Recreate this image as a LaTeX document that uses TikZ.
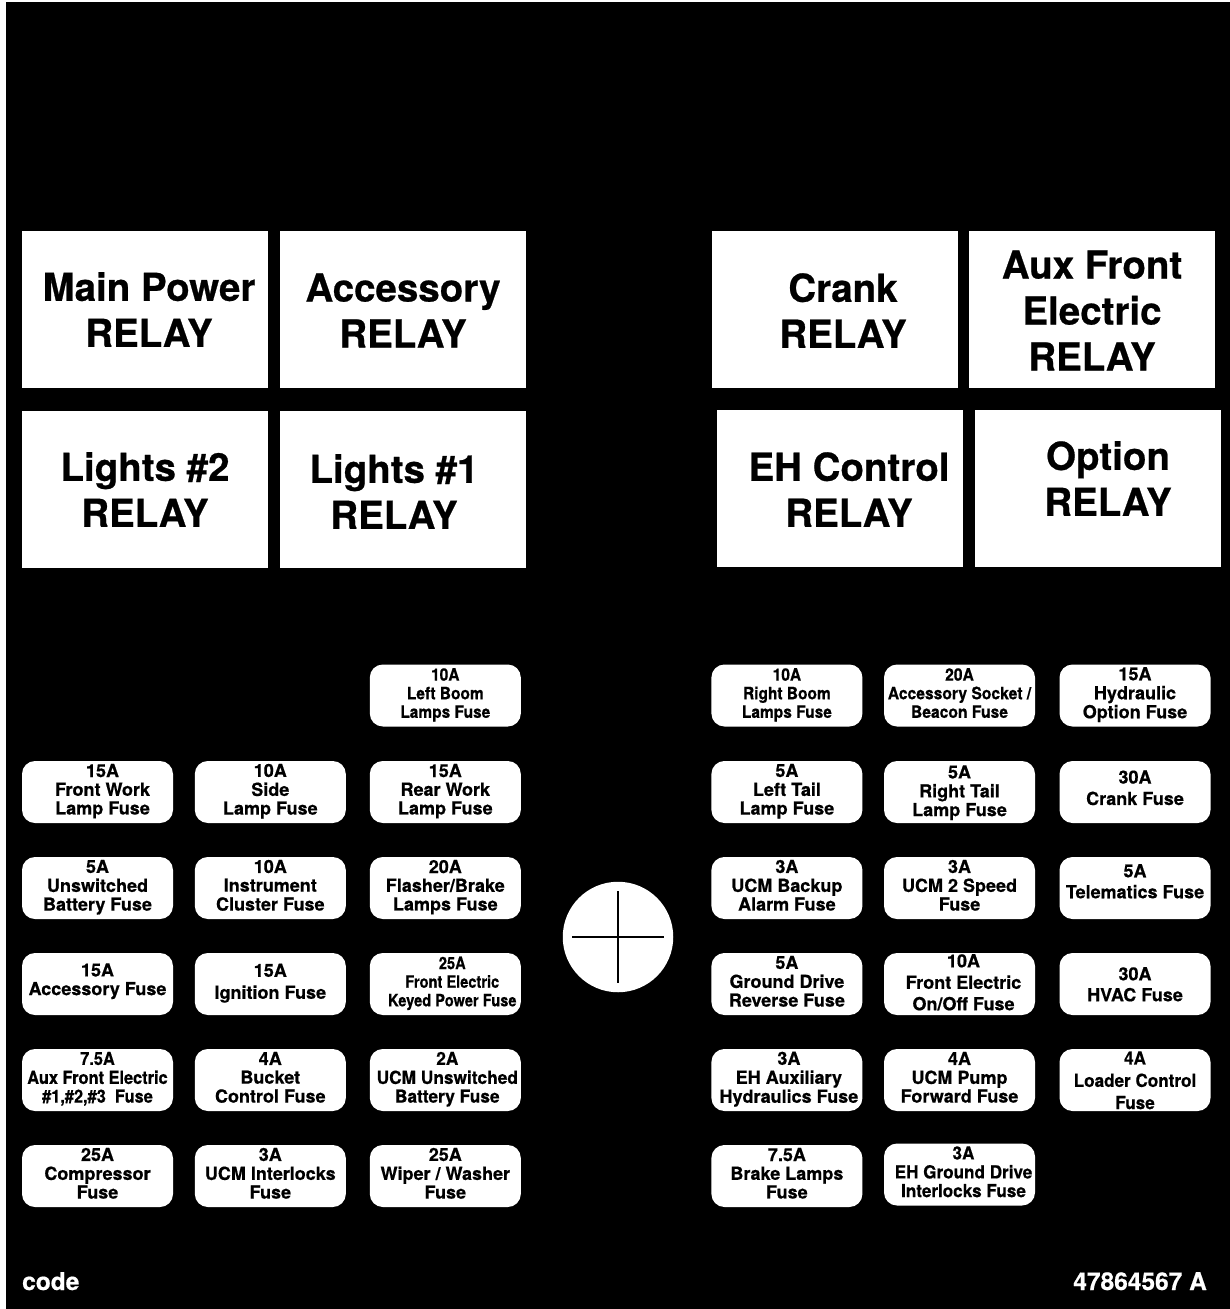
\documentclass[tikz,border=0pt]{standalone}
\usepackage{fontspec}
\usepackage{graphicx}
\setmainfont{TeX Gyre Heros}[BoldFeatures={FakeBold=0.6}]
\usetikzlibrary{calc}
\tikzset{
  relaybox/.style={rectangle, fill=white, inner sep=0pt, outer sep=0pt},
  relaytext/.style={inner sep=0pt, text=black, align=center, font=\fontsize{38.5}{46}\selectfont\bfseries},
  fusebox/.style={rectangle, rounded corners=13pt, fill=white, inner sep=0pt, outer sep=0pt,
                  minimum width=151pt, minimum height=62pt},
  fusetext/.style={inner sep=0pt, text=black, font=\fontsize{18}{18.6}\selectfont\bfseries},
  foottext/.style={inner sep=0pt, text=white, font=\fontsize{24.5}{27}\selectfont\bfseries},
  crossline/.style={line width=2.8pt, black}
}
% multi-line text, optional horizontal squeeze
\newcommand\ml[2][1]{\scalebox{#1}[1]{\begin{tabular}{@{}c@{}}#2\end{tabular}}}
% condensed fuse text
\newcommand\cml[2][.9]{\fontsize{17}{18.6}\selectfont\scalebox{#1}[1]{\begin{tabular}{@{}c@{}}#2\end{tabular}}}
% relay: name, x1, y1, x2, y2, dx, dy, text
\newcommand\relay[8]{%
  \node[relaybox, minimum width={#4-#2}, minimum height={#5-#3}] (#1) at ({(#2+#4)/2},{(#3+#5)/2}) {};
  \node[relaytext] (#1t) at ($(#1)+(#6,#7)$) {#8};}
% fuse: name, cx, cy, dx, dy, text
\newcommand\fuse[6]{%
  \node[fusebox] (#1) at (#2,#3) {};
  \node[fusetext] (#1t) at ($(#1)+(#4,#5)$) {#6};}
\begin{document}
\begin{tikzpicture}[x=1pt,y=-1pt]
\useasboundingbox (0,0) rectangle (1230,1309);
\fill[white] (0,0) rectangle (1230,1309);
\fill[black] (6,2) rectangle (1230,1309);

% relays
\relay{rMain}{22}{231}{268}{388}{4}{0}{Main Power\\RELAY}
\relay{rAcc}{280}{231}{526}{388}{0}{1}{Accessory\\RELAY}
\relay{rL2}{22}{411}{268}{568}{0}{0}{Lights \#2\\RELAY}
\relay{rL1}{280}{411}{526}{568}{-9}{2}{Lights \#1\\RELAY}
\relay{rCrank}{712}{231}{958}{388}{8}{1}{Crank\\RELAY}
\relay{rAux}{969}{231}{1215}{388}{0}{1}{Aux Front\\Electric\\RELAY}
\relay{rEH}{717}{410}{963}{567}{9}{1}{EH Control\\RELAY}
\relay{rOpt}{975}{410}{1221}{567}{10}{-10}{Option\\RELAY}

% left fuses
\fuse{fL0c}{445.3}{695.5}{0}{0}{\cml[.91]{10A\\Left Boom\\Lamps Fuse}}
\fuse{fL1a}{97.5}{792}{5}{0}{\ml{15A\\Front Work\\Lamp Fuse}}
\fuse{fL1b}{270.3}{792}{0}{0}{\ml{10A\\Side\\Lamp Fuse}}
\fuse{fL1c}{445.3}{792}{0}{0}{\ml{15A\\Rear Work\\Lamp Fuse}}
\fuse{fL2a}{97.5}{888}{0}{0}{\ml{5A\\Unswitched\\Battery Fuse}}
\fuse{fL2b}{270.3}{888}{0}{0}{\ml{10A\\Instrument\\Cluster Fuse}}
\fuse{fL2c}{445.3}{888}{0}{0}{\ml{20A\\Flasher/Brake\\Lamps Fuse}}
\fuse{fL3a}{97.5}{984}{0}{-2}{\ml{15A\\Accessory Fuse}}
\fuse{fL3b}{270.3}{984}{0}{0}{\ml{15A\\[3pt]Ignition Fuse}}
\fuse{fL3c}{445.3}{984}{7}{0}{\cml[.86]{25A\\Front Electric\\Keyed Power Fuse}}
\fuse{fL4a}{97.5}{1080}{0}{0}{\ml[.91]{7.5A\\Aux Front Electric\\\#1,\#2,\#3\ \ Fuse}}
\fuse{fL4b}{270.3}{1080}{0}{0}{\ml{4A\\Bucket\\Control Fuse}}
\fuse{fL4c}{445.3}{1080}{2}{0}{\ml[.96]{2A\\UCM Unswitched\\Battery Fuse}}
\fuse{fL5a}{97.5}{1176}{0}{0}{\ml{25A\\Compressor\\Fuse}}
\fuse{fL5b}{270.3}{1176}{0}{0}{\ml{3A\\UCM Interlocks\\Fuse}}
\fuse{fL5c}{445.3}{1176}{0}{0}{\ml{25A\\Wiper / Washer\\Fuse}}

% right fuses
\fuse{fR0a}{786.9}{695.5}{0}{0}{\cml[.91]{10A\\Right Boom\\Lamps Fuse}}
\fuse{fR0b}{959.5}{695.5}{0}{0}{\cml[.92]{20A\\Accessory Socket /\\Beacon Fuse}}
\fuse{fR0c}{1135}{695.5}{0}{0}{\ml{15A\\Hydraulic\\Option Fuse}}
\fuse{fR1a}{786.9}{792}{0}{0}{\ml{5A\\Left Tail\\Lamp Fuse}}
\fuse{fR1b}{959.5}{792}{0}{1.5}{\ml{5A\\Right Tail\\Lamp Fuse}}
\fuse{fR1c}{1135}{792}{0}{-1.5}{\ml{30A\\[2.5pt]Crank Fuse}}
\fuse{fR2a}{786.9}{888}{0}{0}{\ml{3A\\UCM Backup\\Alarm Fuse}}
\fuse{fR2b}{959.5}{888}{0}{0}{\ml{3A\\UCM 2 Speed\\Fuse}}
\fuse{fR2c}{1135}{888}{0}{-4}{\ml{5A\\[2pt]Telematics Fuse}}
\fuse{fR3a}{786.9}{984}{0}{0}{\ml{5A\\Ground Drive\\Reverse Fuse}}
\fuse{fR3b}{959.5}{984}{4}{1}{\ml{10A\\[2.5pt]Front Electric\\[2.5pt]On/Off Fuse}}
\fuse{fR3c}{1135}{984}{0}{3}{\ml{30A\\[2pt]HVAC Fuse}}
\fuse{fR4a}{786.9}{1080}{2}{0}{\ml{3A\\EH Auxiliary\\Hydraulics Fuse}}
\fuse{fR4b}{959.5}{1080}{0}{0}{\ml{4A\\UCM Pump\\Forward Fuse}}
\fuse{fR4c}{1135}{1080}{0}{3}{\ml[.95]{4A\\[3.5pt]Loader Control\\[3.5pt]Fuse}}
\fuse{fR5a}{786.9}{1176}{0}{0}{\ml{7.5A\\Brake Lamps\\Fuse}}
\fuse{fR5b}{959.5}{1174.5}{4}{0}{\ml[.95]{3A\\EH Ground Drive\\Interlocks Fuse}}

% centre hole with cross
\node[circle, fill=white, inner sep=0pt, minimum size=110.5pt] (hole) at (618,937) {};
\coordinate (crossW) at (572,937);
\coordinate (crossE) at (664,937);
\coordinate (crossN) at (618,891);
\coordinate (crossS) at (618,983);
\draw[crossline] (crossW) -- (crossE);
\draw[crossline] (crossN) -- (crossS);

% footer
\node[foottext, anchor=base west] (code) at (22,1290) {code};
\node[foottext, anchor=base east] (partno) at (1207,1290) {47864567 A};
\end{tikzpicture}
\end{document}
